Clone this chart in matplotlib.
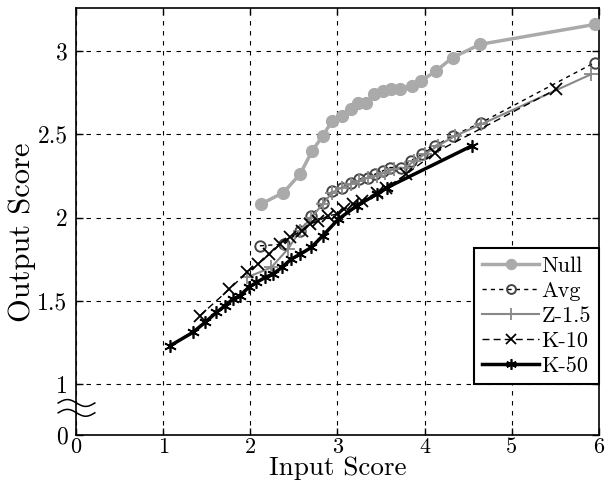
import matplotlib
matplotlib.use("Agg")
import matplotlib.pyplot as plt
import numpy as np

plt.rcParams["font.family"] = ["cmr10", "DejaVu Serif"]
plt.rcParams["mathtext.fontset"] = "cm"
plt.rcParams["axes.unicode_minus"] = False
plt.rcParams["axes.formatter.use_mathtext"] = True

# ---- data ----
null_x = [2.12, 2.38, 2.57, 2.71, 2.83, 2.94, 3.05, 3.15, 3.24, 3.33, 3.42,
          3.52, 3.61, 3.72, 3.85, 3.96, 4.13, 4.32, 4.64, 5.96]
null_y = [2.08, 2.15, 2.26, 2.40, 2.49, 2.58, 2.61, 2.65, 2.69, 2.69, 2.74,
          2.76, 2.77, 2.77, 2.79, 2.82, 2.88, 2.96, 3.04, 3.16]

avg_x = [2.11, 2.39, 2.57, 2.70, 2.83, 2.94, 3.05, 3.15, 3.25, 3.35, 3.43,
         3.52, 3.60, 3.73, 3.84, 3.97, 4.12, 4.32, 4.65, 5.95]
avg_y = [1.83, 1.84, 1.92, 2.01, 2.09, 2.16, 2.18, 2.21, 2.23, 2.24, 2.26,
         2.28, 2.30, 2.30, 2.34, 2.38, 2.43, 2.49, 2.57, 2.93]

z15_x = [1.96, 2.24, 2.43, 2.57, 2.70, 2.83, 2.94, 3.05, 3.15, 3.25, 3.35,
         3.45, 3.55, 3.65, 3.78, 3.88, 4.00, 4.15, 4.35, 4.65, 5.91]
z15_y = [1.64, 1.70, 1.81, 1.92, 2.00, 2.08, 2.15, 2.18, 2.20, 2.22, 2.24,
         2.25, 2.27, 2.29, 2.30, 2.34, 2.38, 2.43, 2.49, 2.56, 2.86]

k10_x = [1.42, 1.76, 1.96, 2.09, 2.22, 2.34, 2.45, 2.59, 2.68, 2.78, 2.89,
         2.99, 3.08, 3.18, 3.28, 3.45, 3.56, 3.79, 4.12, 5.51]
k10_y = [1.41, 1.57, 1.67, 1.72, 1.78, 1.84, 1.88, 1.92, 1.96, 1.98, 2.01,
         2.02, 2.05, 2.08, 2.10, 2.15, 2.18, 2.26, 2.39, 2.77]

k50_x = [1.08, 1.34, 1.48, 1.61, 1.71, 1.80, 1.88, 1.98, 2.07, 2.17, 2.26,
         2.36, 2.47, 2.57, 2.70, 2.83, 3.01, 3.22, 3.45, 3.57, 4.54]
k50_y = [1.23, 1.31, 1.37, 1.43, 1.47, 1.51, 1.53, 1.58, 1.61, 1.64, 1.66,
         1.70, 1.75, 1.78, 1.82, 1.89, 1.99, 2.07, 2.14, 2.18, 2.43]

x_ticks = [0, 1, 2, 3, 4, 5, 6]
y_bottom = 0.694  # broken axis: the bottom of the axis stands for 0
y_ticks = [y_bottom, 1, 1.5, 2, 2.5, 3]
y_tick_labels = ["0", "1", "1.5", "2", "2.5", "3"]

fig = plt.figure(figsize=(6.06, 4.84), dpi=100)
ax = fig.add_axes([0.1254, 0.1012, 0.863, 0.8823])

ax.plot(null_x, null_y, color="#aaaaaa", lw=2.5, marker="o", ms=8.5,
        mec="#aaaaaa", mfc="#aaaaaa", label="Null", zorder=3)
ax.plot(avg_x, avg_y, color="k", lw=1.0, ls=(0, (3, 3)), marker="o", ms=7.5,
        mec="#444444", mfc="none", mew=1.4, label="Avg", zorder=4)
ax.plot(z15_x, z15_y, color="#888888", lw=1.5, marker="+", ms=10, mew=1.3,
        label="Z-1.5", zorder=4)
ax.plot(k10_x, k10_y, color="k", lw=1.0, ls=(0, (5, 3)), marker="x", ms=8,
        mew=1.3, label="K-10", zorder=5)
ax.plot(k50_x, k50_y, color="k", lw=2.5, marker=(6, 2, 0), ms=9, mew=1.2,
        label="K-50", zorder=6)

ax.set_xlim(0, 6)
ax.set_ylim(y_bottom, 3.258)
ax.set_xticks(x_ticks)
ax.set_xticklabels([str(t) for t in x_ticks])
ax.set_yticks(y_ticks)
ax.set_yticklabels(y_tick_labels)

ax.grid(True, color="k", ls=(0, (4, 5)), lw=0.8)
ax.set_axisbelow(True)
ax.tick_params(direction="in", length=5, width=1, top=True, right=True,
               labelsize=17)
ax.tick_params(axis="x", labelsize=16, pad=1.5)
ax.tick_params(axis="y", pad=6)
for sp in ax.spines.values():
    sp.set_linewidth(1.2)

ax.set_xlabel("Input Score", fontsize=19.5)
ax.xaxis.set_label_coords(0.5, -0.05)
ax.set_ylabel("Output Score", fontsize=22)
ax.yaxis.set_label_coords(-0.076, 0.475)

# axis break mark on the left spine
t = np.linspace(-0.034, 0.036, 60)
for y0 in (0.075, 0.052):
    ax.plot(t, y0 + 0.008 * np.sin((t + 0.034) / 0.07 * 2 * np.pi),
            color="k", lw=1.1, transform=ax.transAxes, clip_on=False, zorder=7)

leg = ax.legend(loc="lower right", bbox_to_anchor=(1.0, 0.12),
                borderaxespad=0, fontsize=16, handlelength=2.6,
                handletextpad=0.1, labelspacing=0.25, borderpad=0.35,
                fancybox=False, framealpha=1, edgecolor="k", markerscale=0.85)
leg.get_frame().set_linewidth(1.5)
leg.set_zorder(10)

fig.savefig("out.png", dpi=100)
plt.close(fig)
